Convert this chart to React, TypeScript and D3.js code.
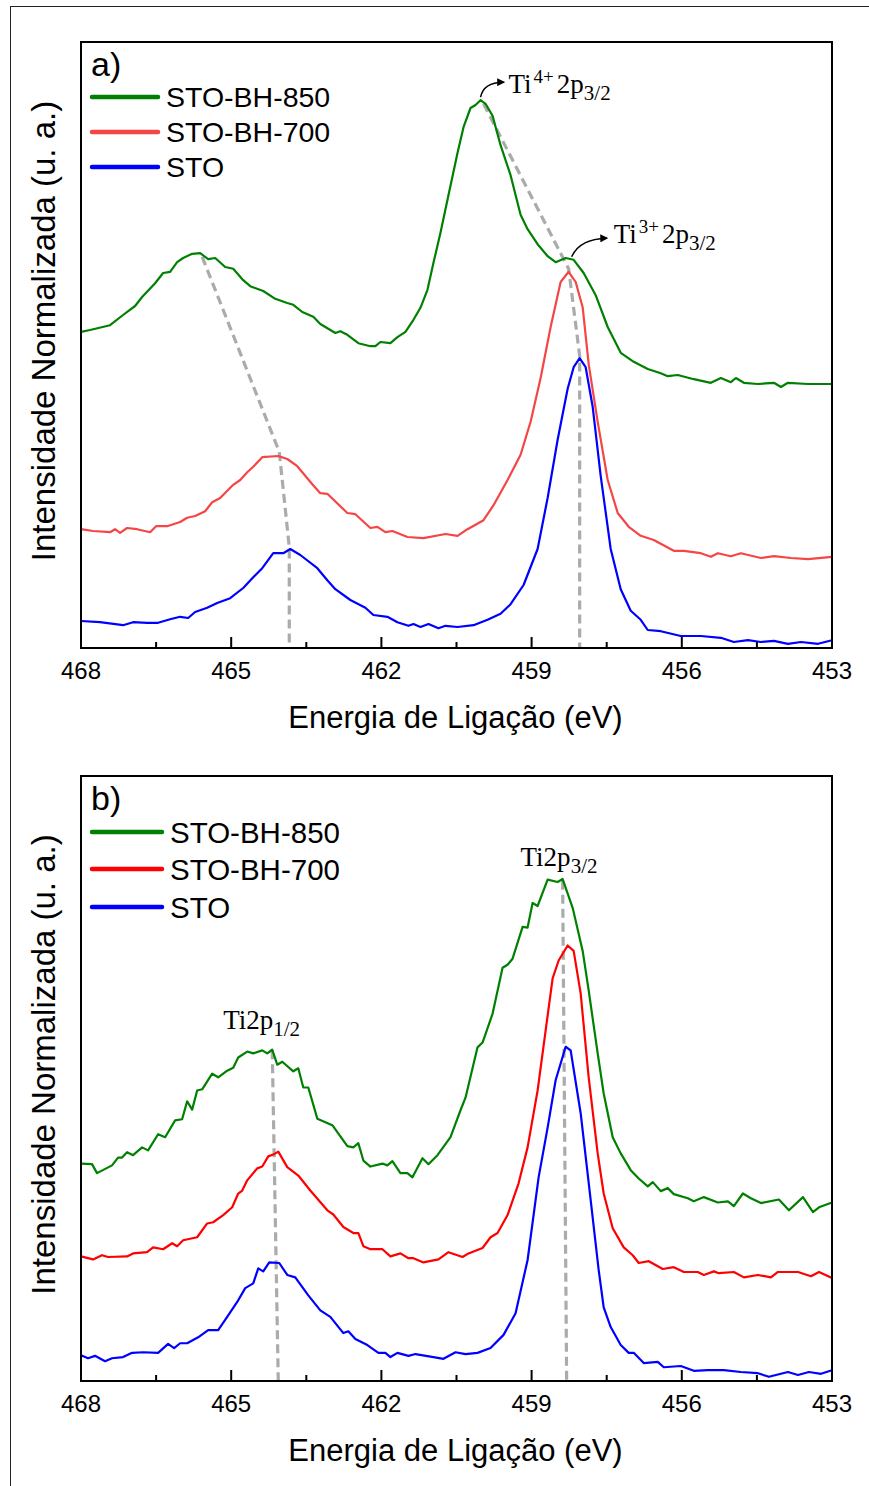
import * as d3 from "d3";

// binding energy (eV) vs normalized intensity (a.u.)
const SERIES_NAMES = ["STO-BH-850", "STO-BH-700", "STO"];
const ENERGY_TICKS = [468, 465, 462, 459, 456, 453];
const MINOR_TICKS = [466.5, 463.5, 460.5, 457.5, 454.5];

const aGreen: [number, number][] = [
  [468.0, 52.7], [467.82, 53.0], [467.42, 53.8], [467.16, 55.5], [466.92, 57.0], [466.78, 58.5],
  [466.52, 60.8], [466.36, 62.5], [466.22, 62.7], [466.08, 64.3], [465.96, 65.0], [465.78, 65.7],
  [465.62, 65.8], [465.46, 64.8], [465.32, 65.0], [465.12, 63.5], [464.96, 63.2], [464.76, 61.3],
  [464.62, 60.3], [464.36, 59.5], [464.12, 58.2], [463.88, 57.5], [463.76, 57.2], [463.58, 56.0],
  [463.36, 55.2], [463.22, 54.0], [462.92, 52.5], [462.82, 52.8], [462.68, 52.2], [462.46, 50.8],
  [462.22, 50.3], [462.12, 50.3], [462.02, 51.0], [461.82, 50.8], [461.68, 51.8], [461.52, 52.7],
  [461.36, 54.7], [461.22, 56.7], [461.08, 59.7], [460.96, 64.2], [460.82, 69.2], [460.68, 74.7],
  [460.48, 82.5], [460.36, 86.8], [460.22, 90.0], [460.12, 90.5], [460.02, 91.3], [459.92, 90.7],
  [459.78, 88.7], [459.62, 83.8], [459.42, 78.8], [459.22, 72.2], [459.08, 69.8], [458.88, 67.3],
  [458.68, 65.3], [458.52, 64.3], [458.32, 65.0], [458.16, 64.7], [457.96, 62.5], [457.72, 58.8],
  [457.48, 53.5], [457.22, 49.2], [456.96, 47.7], [456.68, 46.5], [456.42, 45.8], [456.28, 45.3],
  [456.08, 45.5], [455.76, 44.8], [455.42, 44.2], [455.22, 45.0], [455.02, 44.3], [454.92, 45.0],
  [454.76, 44.2], [454.48, 44.0], [454.16, 44.2], [454.02, 43.5], [453.88, 44.2], [453.48, 44.0],
  [453.0, 44.0],
];

const aRed: [number, number][] = [
  [468.0, 19.8], [467.76, 19.5], [467.42, 19.3], [467.32, 19.8], [467.22, 19.2], [467.08, 20.0],
  [466.88, 19.8], [466.62, 19.3], [466.5, 20.3], [466.28, 20.3], [466.02, 21.0], [465.88, 21.7],
  [465.72, 22.0], [465.52, 22.8], [465.38, 24.3], [465.22, 25.0], [464.96, 27.2], [464.82, 28.0],
  [464.68, 29.3], [464.56, 30.2], [464.38, 31.8], [464.06, 32.0], [463.88, 31.5], [463.68, 30.3],
  [463.38, 27.3], [463.22, 25.8], [463.08, 25.7], [462.68, 22.5], [462.52, 22.3], [462.22, 20.0],
  [462.08, 20.2], [461.92, 19.3], [461.78, 19.5], [461.48, 18.5], [461.16, 18.3], [460.72, 19.0],
  [460.48, 18.7], [460.28, 19.8], [459.96, 21.3], [459.76, 23.8], [459.48, 28.0], [459.22, 32.2],
  [459.02, 37.7], [458.82, 45.0], [458.62, 53.5], [458.42, 61.0], [458.26, 62.7], [458.12, 61.0],
  [457.98, 56.8], [457.86, 47.3], [457.68, 37.7], [457.48, 28.0], [457.28, 22.5], [457.06, 20.2],
  [456.82, 18.7], [456.56, 18.0], [456.16, 16.2], [455.96, 16.2], [455.62, 15.8], [455.42, 15.2],
  [455.28, 15.8], [455.02, 15.3], [454.82, 15.8], [454.42, 15.0], [454.16, 15.3], [453.82, 15.0],
  [453.48, 14.8], [453.0, 15.2],
];

const aBlue: [number, number][] = [
  [468.0, 4.5], [467.62, 4.3], [467.16, 3.8], [466.96, 4.3], [466.68, 4.2], [466.46, 4.2],
  [466.22, 4.8], [466.02, 5.2], [465.86, 5.0], [465.72, 6.0], [465.48, 6.7], [465.28, 7.5],
  [465.02, 8.3], [464.76, 10.0], [464.56, 11.8], [464.38, 13.3], [464.16, 15.8], [463.96, 15.8],
  [463.82, 16.5], [463.62, 15.5], [463.28, 13.3], [463.08, 11.3], [462.92, 9.8], [462.62, 8.0],
  [462.32, 6.7], [462.16, 5.5], [461.88, 5.2], [461.68, 4.3], [461.46, 3.7], [461.36, 4.0],
  [461.22, 3.5], [461.06, 4.0], [460.86, 3.3], [460.72, 3.7], [460.48, 3.5], [460.16, 3.8],
  [459.88, 4.7], [459.62, 5.7], [459.42, 7.3], [459.16, 10.5], [458.88, 16.5], [458.68, 25.0],
  [458.48, 34.7], [458.28, 43.2], [458.16, 46.8], [458.04, 48.3], [457.92, 46.8], [457.78, 40.2],
  [457.62, 28.7], [457.42, 16.5], [457.22, 9.8], [457.02, 6.2], [456.82, 4.7], [456.68, 3.0],
  [456.42, 2.8], [456.02, 2.0], [455.62, 2.0], [455.22, 1.7], [454.96, 1.0], [454.68, 1.3],
  [454.42, 1.0], [454.16, 1.2], [453.88, 0.7], [453.62, 1.0], [453.28, 0.7], [453.0, 1.3],
];

const bGreen: [number, number][] = [
  [468.0, 36.3], [467.78, 36.2], [467.68, 34.7], [467.38, 36.0], [467.26, 37.3], [467.18, 37.3],
  [467.08, 38.2], [466.96, 37.7], [466.78, 39.0], [466.66, 38.5], [466.46, 41.2], [466.32, 40.7],
  [466.12, 43.5], [465.98, 43.7], [465.88, 46.7], [465.78, 45.3], [465.68, 48.5], [465.58, 48.7],
  [465.38, 51.3], [465.26, 50.7], [465.08, 51.8], [464.96, 52.3], [464.86, 54.0], [464.68, 55.0],
  [464.56, 54.7], [464.38, 55.2], [464.28, 54.7], [464.18, 55.3], [464.08, 52.8], [463.98, 53.3],
  [463.76, 51.7], [463.66, 52.2], [463.56, 49.0], [463.46, 49.0], [463.28, 43.8], [462.98, 42.7],
  [462.68, 39.2], [462.56, 39.0], [462.46, 39.7], [462.36, 36.8], [462.22, 35.8], [461.98, 36.3],
  [461.88, 36.0], [461.78, 36.7], [461.62, 34.7], [461.48, 34.7], [461.38, 34.0], [461.18, 37.2],
  [461.06, 36.2], [460.88, 37.7], [460.62, 40.7], [460.42, 45.2], [460.32, 47.3], [460.08, 55.7],
  [459.98, 56.5], [459.78, 61.3], [459.58, 69.0], [459.48, 69.5], [459.38, 70.5], [459.18, 75.8],
  [459.08, 75.7], [458.98, 79.8], [458.88, 79.3], [458.68, 83.7], [458.48, 83.3], [458.38, 83.8],
  [458.18, 79.0], [457.98, 71.8], [457.86, 65.2], [457.68, 54.7], [457.56, 48.0], [457.38, 40.7],
  [457.22, 38.0], [457.02, 35.2], [456.86, 33.8], [456.68, 32.5], [456.58, 33.2], [456.42, 31.7],
  [456.28, 32.2], [456.16, 31.2], [455.88, 30.5], [455.76, 30.0], [455.56, 30.7], [455.28, 29.8],
  [455.08, 30.0], [454.96, 29.2], [454.78, 31.3], [454.62, 30.5], [454.42, 29.7], [454.06, 30.3],
  [453.86, 28.5], [453.58, 30.7], [453.38, 28.2], [453.26, 29.0], [453.0, 29.8],
];

const bRed: [number, number][] = [
  [468.0, 20.8], [467.76, 20.3], [467.58, 21.0], [467.46, 20.7], [467.08, 20.8], [466.96, 21.3],
  [466.68, 21.5], [466.56, 22.3], [466.36, 22.0], [466.18, 23.0], [466.08, 22.5], [465.96, 23.5],
  [465.68, 24.0], [465.48, 26.3], [465.36, 26.5], [465.16, 27.7], [464.98, 29.0], [464.86, 31.3],
  [464.78, 31.8], [464.68, 33.5], [464.48, 35.5], [464.38, 35.8], [464.26, 37.5], [464.16, 37.8],
  [464.06, 38.3], [463.88, 35.7], [463.66, 34.3], [463.42, 31.8], [463.08, 28.5], [462.96, 27.8],
  [462.76, 25.7], [462.56, 24.7], [462.46, 24.7], [462.36, 22.5], [462.22, 22.0], [461.98, 22.0],
  [461.82, 20.8], [461.62, 21.3], [461.46, 20.5], [461.36, 20.5], [461.16, 19.8], [460.86, 20.3],
  [460.66, 21.5], [460.38, 20.7], [460.26, 21.3], [459.98, 22.2], [459.82, 24.0], [459.68, 24.7],
  [459.48, 27.7], [459.26, 33.0], [459.08, 39.0], [458.88, 48.5], [458.72, 58.5], [458.58, 67.2],
  [458.46, 70.2], [458.28, 72.7], [458.16, 71.8], [458.02, 64.7], [457.86, 50.7], [457.68, 38.0],
  [457.56, 31.3], [457.38, 25.5], [457.16, 22.3], [456.98, 21.0], [456.86, 19.7], [456.66, 20.0],
  [456.38, 18.7], [456.16, 19.0], [455.96, 18.2], [455.68, 18.2], [455.56, 17.7], [455.36, 18.3],
  [455.26, 18.0], [454.96, 18.2], [454.76, 17.3], [454.48, 17.7], [454.22, 17.3], [454.08, 18.2],
  [453.68, 18.2], [453.42, 17.5], [453.26, 18.2], [453.0, 17.2],
];

const bBlue: [number, number][] = [
  [468.0, 4.3], [467.86, 3.8], [467.72, 4.2], [467.52, 3.3], [467.38, 3.8], [467.16, 4.0],
  [466.98, 4.7], [466.76, 4.8], [466.46, 4.7], [466.26, 6.2], [466.14, 5.5], [466.02, 6.3],
  [465.88, 6.3], [465.66, 7.3], [465.46, 8.5], [465.26, 8.5], [465.08, 10.7], [464.88, 13.2],
  [464.72, 15.5], [464.56, 16.3], [464.46, 18.8], [464.36, 18.3], [464.24, 19.8], [464.04, 19.7],
  [463.88, 17.7], [463.72, 17.3], [463.46, 14.3], [463.22, 11.8], [463.02, 10.7], [462.76, 8.0],
  [462.66, 8.3], [462.52, 7.0], [462.28, 6.0], [462.06, 4.7], [461.92, 4.7], [461.82, 4.0],
  [461.68, 4.7], [461.46, 4.2], [461.32, 4.5], [460.96, 4.0], [460.76, 3.7], [460.52, 4.8],
  [460.32, 4.5], [460.08, 4.7], [459.82, 5.5], [459.56, 7.7], [459.32, 11.3], [459.08, 20.2],
  [458.86, 34.0], [458.68, 42.3], [458.52, 50.2], [458.32, 55.8], [458.22, 55.2], [458.02, 44.7],
  [457.82, 30.2], [457.66, 18.5], [457.56, 12.3], [457.42, 9.0], [457.22, 6.0], [457.06, 4.7],
  [456.96, 4.7], [456.76, 3.0], [456.48, 3.2], [456.36, 2.3], [456.02, 2.5], [455.76, 1.7],
  [455.48, 1.8], [455.16, 1.8], [454.82, 1.5], [454.48, 1.3], [454.26, 0.7], [453.88, 1.5],
  [453.68, 1.0], [453.46, 1.5], [453.22, 1.2], [453.0, 1.8],
];

// peak-shift guide lines (dashed)
const aGuideLeft: [number, number][] = [[465.58, 65.2], [464.04, 32.7], [463.84, 16.8], [463.84, 0]];
const aGuideRight: [number, number][] = [[459.96, 90.7], [458.26, 63.2], [458.04, 48.7], [458.04, 0]];
const bGuideLeft: [number, number][] = [[464.18, 55.2], [464.06, 0]];
const bGuideRight: [number, number][] = [[458.38, 83.5], [458.3, 0]];

const SANS = "'Liberation Sans', Arial, sans-serif";
const SERIF = "'Liberation Serif', 'Times New Roman', serif";

const X0 = 81;
const X1 = 832;
const xScale = d3.scaleLinear().domain([468, 453]).range([X0, X1]);

type Label = { e: number; i: number; main: string; sup?: string; sub: string };
type Arrow = { from: [number, number]; ctrl: [number, number]; to: [number, number] };

type PanelProps = {
  top: number;
  bottom: number;
  tag: string;
  series: [number, number][][];
  colors: string[];
  guides: [number, number][][];
  labels: Label[];
  arrows: Arrow[];
  legendY: number[];
  legendX: [number, number, number];
  legendSize: number;
};

const Panel = ({ top, bottom, tag, series, colors, guides, labels, arrows, legendY, legendX, legendSize }: PanelProps) => {
  const yScale = d3.scaleLinear().domain([0, 101]).range([bottom, top]);
  const line = d3
    .line<[number, number]>()
    .x((d) => xScale(d[0]))
    .y((d) => yScale(d[1]));
  const arrowPath = (a: Arrow) =>
    `M${xScale(a.from[0])},${yScale(a.from[1])} Q${xScale(a.ctrl[0])},${yScale(a.ctrl[1])} ${xScale(a.to[0])},${yScale(a.to[1])}`;
  const midY = (top + bottom) / 2;

  return (
    <g>
      {guides.map((g, i) => (
        <path key={"g" + i} d={line(g) ?? ""} fill="none" stroke="#ababab" strokeWidth={3.2} strokeDasharray="9,5" />
      ))}
      {series.map((s, i) => (
        <path key={"s" + i} d={line(s) ?? ""} fill="none" stroke={colors[i]} strokeWidth={2.2} strokeLinejoin="round" />
      ))}
      {arrows.map((a, i) => (
        <path key={"a" + i} d={arrowPath(a)} fill="none" stroke="#000" strokeWidth={1.5} markerEnd="url(#arrowHead)" />
      ))}
      {labels.map((l, i) => (
        <text key={"l" + i} x={xScale(l.e)} y={yScale(l.i)} fontFamily={SERIF} fontSize={27} fill="#000">
          {l.main}
          {l.sup ? (
            <tspan dx={2} dy={-10} fontSize={19}>{l.sup}</tspan>
          ) : null}
          {l.sup ? (
            <tspan dx={3} dy={10}>2p</tspan>
          ) : null}
          <tspan dy={7} fontSize={21}>{l.sub}</tspan>
        </text>
      ))}

      {/* frame */}
      <rect x={X0} y={top} width={X1 - X0} height={bottom - top} fill="none" stroke="#000" strokeWidth={2} />

      {/* bottom ticks, pointing inward */}
      {ENERGY_TICKS.map((t) => (
        <g key={"t" + t}>
          <line x1={xScale(t)} x2={xScale(t)} y1={bottom} y2={bottom - 11} stroke="#000" strokeWidth={2} />
          <text x={xScale(t)} y={bottom + 31} textAnchor="middle" fontFamily={SANS} fontSize={24} fill="#000">
            {t}
          </text>
        </g>
      ))}
      {MINOR_TICKS.map((t) => (
        <line key={"m" + t} x1={xScale(t)} x2={xScale(t)} y1={bottom} y2={bottom - 6} stroke="#000" strokeWidth={2} />
      ))}

      <text x={(X0 + X1) / 2 - 1} y={bottom + 80} textAnchor="middle" fontFamily={SANS} fontSize={31} fill="#000">
        Energia de Ligação (eV)
      </text>
      <text
        transform={`translate(55,${midY - 14}) rotate(-90)`}
        textAnchor="middle"
        fontFamily={SANS}
        fontSize={33}
        fill="#000"
      >
        Intensidade Normalizada (u. a.)
      </text>

      <text x={91} y={top + 34} fontFamily={SANS} fontSize={34} fill="#000">
        {tag}
      </text>

      {SERIES_NAMES.map((name, i) => (
        <g key={name}>
          <line
            x1={legendX[0]}
            x2={legendX[1]}
            y1={legendY[i]}
            y2={legendY[i]}
            stroke={colors[i]}
            strokeWidth={4.5}
            strokeLinecap="round"
          />
          <text x={legendX[2]} y={legendY[i]} dy="0.36em" fontFamily={SANS} fontSize={legendSize} fill="#000">
            {name}
          </text>
        </g>
      ))}
    </g>
  );
};

export default function App() {
  return (
    <div style={{ position: "absolute", left: 0, top: 0 }}>
      <svg width={869} height={1486} style={{ display: "block", background: "#fff" }}>
        <defs>
          <marker id="arrowHead" viewBox="0 0 10 10" refX={8} refY={5} markerWidth={8} markerHeight={8} orient="auto" markerUnits="userSpaceOnUse">
            <path d="M0,0 L10,5 L0,10 z" fill="#000" />
          </marker>
        </defs>
        <rect x={10.5} y={6.5} width={900} height={1500} fill="none" stroke="#222" strokeWidth={1} />
        <Panel
          top={42}
          bottom={648}
          tag="a)"
          series={[aGreen, aRed, aBlue]}
          colors={["#008000", "#f54545", "#0000ff"]}
          guides={[aGuideLeft, aGuideRight]}
          labels={[
            { e: 459.46, i: 92.5, main: "Ti", sup: "4+", sub: "3/2" },
            { e: 457.36, i: 67.5, main: "Ti", sup: "3+", sub: "3/2" },
          ]}
          arrows={[
            { from: [460.02, 91.8], ctrl: [459.96, 94.3], to: [459.56, 94.3] },
            { from: [458.2, 65.2], ctrl: [458.04, 68.2], to: [457.5, 68.3] },
          ]}
          legendY={[97, 132, 167]}
          legendX={[92, 158, 166]}
          legendSize={28.5}
        />
        <Panel
          top={776}
          bottom={1381}
          tag="b)"
          series={[bGreen, bRed, bBlue]}
          colors={["#008000", "#ff0000", "#0000ff"]}
          guides={[bGuideLeft, bGuideRight]}
          labels={[
            { e: 459.22, i: 86, main: "Ti2p", sub: "3/2" },
            { e: 465.16, i: 58.8, main: "Ti2p", sub: "1/2" },
          ]}
          arrows={[]}
          legendY={[832, 869, 907]}
          legendX={[92, 162, 170]}
          legendSize={29.5}
        />
      </svg>
    </div>
  );
}
